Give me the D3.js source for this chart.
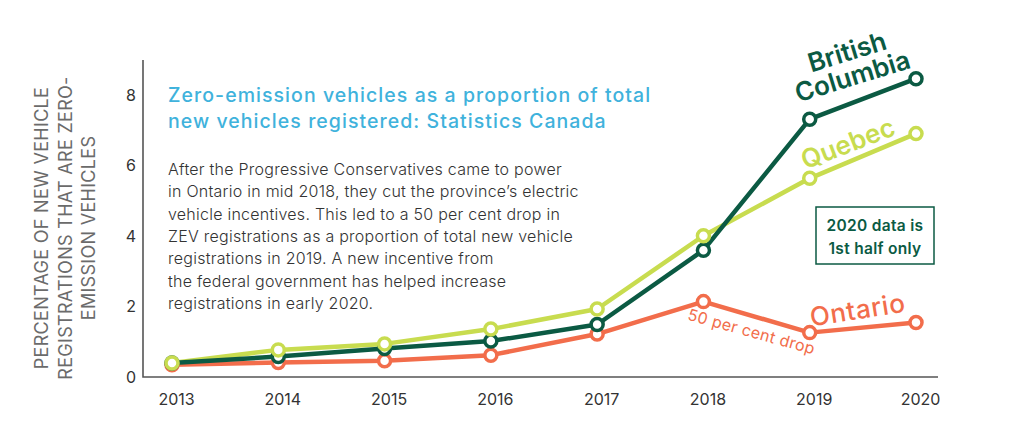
<!DOCTYPE html>
<html>
<head>
<meta charset="utf-8">
<script src="https://cdn.jsdelivr.net/npm/d3@7.9.0/dist/d3.min.js"></script>
<style>
  html, body { margin: 0; padding: 0; background: #fff; }
  svg { display: block; font-family: Inter, "Open Sans", sans-serif; }
</style>
</head>
<body>
<div id="chart"></div>
<script>
// data
const years = ['2013', '2014', '2015', '2016', '2017', '2018', '2019', '2020'];
const britishColumbia = [0.4, 0.58, 0.81, 1.02, 1.49, 3.6, 7.32, 8.47];
const quebec = [0.4, 0.77, 0.94, 1.36, 1.93, 4.01, 5.64, 6.91];
const ontario = [0.35, 0.41, 0.46, 0.62, 1.22, 2.14, 1.26, 1.55];
const yTicks = [0, 2, 4, 6, 8];

const yTitle = ['PERCENTAGE OF NEW VEHICLE', 'REGISTRATIONS THAT ARE ZERO-', 'EMISSION VEHICLES'];
const title = ['Zero-emission vehicles as a proportion of total', 'new vehicles registered: Statistics Canada'];
const body = [
  'After the Progressive Conservatives came to power',
  'in Ontario in mid 2018, they cut the province\u2019s electric',
  'vehicle incentives. This led to a 50 per cent drop in',
  'ZEV registrations as a proportion of total new vehicle',
  'registrations in 2019. A new incentive from',
  'the federal government has helped increase',
  'registrations in early 2020.'
];
const note = ['2020 data is', '1st half only'];

const colors = { bc: '#0b5a43', qc: '#c8dc4f', on: '#f26d4b' };

const width = 1024;
const height = 439;

const svg = d3.select('#chart')
  .append('svg')
  .attr('width', width)
  .attr('height', height);

const x = d3.scalePoint().domain(years).range([172, 916]);
const y = d3.scaleLinear().domain([0, 9]).range([377, 60]);

// y axis
const yAxis = svg.append('g')
  .attr('transform', 'translate(143,0)')
  .call(d3.axisLeft(y).tickValues(yTicks).tickSize(0).tickPadding(7));
yAxis.select('.domain').remove();
yAxis.selectAll('text')
  .attr('font-family', 'Inter, sans-serif')
  .attr('font-size', 16)
  .attr('fill', '#333');

// x axis
const xAxis = svg.append('g')
  .attr('transform', 'translate(0,377)')
  .call(d3.axisBottom(x).tickSize(0).tickPadding(17));
xAxis.select('.domain').remove();
xAxis.selectAll('text')
  .attr('dx', 4)
  .attr('font-family', 'Inter, sans-serif')
  .attr('font-size', 16)
  .attr('fill', '#333');

// axis lines
svg.append('path')
  .attr('d', `M143,${y(9)}V377H938`)
  .attr('fill', 'none')
  .attr('stroke', '#555')
  .attr('stroke-width', 1.6);

// y axis title
const yt = svg.append('text')
  .attr('transform', 'translate(42,228) rotate(-90)')
  .attr('text-anchor', 'middle')
  .attr('fill', '#6b6b6b')
  .attr('font-size', 18)
  .attr('letter-spacing', 0.3);
yt.selectAll('tspan')
  .data(yTitle)
  .join('tspan')
  .attr('x', 0)
  .attr('dy', (d, i) => i === 0 ? '0.35em' : 23.5)
  .text(d => d);

// title
svg.append('text')
  .attr('fill', '#3fb2dc')
  .attr('font-size', 19.5)
  .attr('font-weight', 500)
  .attr('letter-spacing', 1.05)
  .selectAll('tspan')
  .data(title)
  .join('tspan')
  .attr('x', 168)
  .attr('y', (d, i) => 102 + i * 26)
  .text(d => d);

// body text
svg.append('text')
  .attr('fill', '#333')
  .attr('font-size', 16)
  .attr('font-weight', 300)
  .attr('letter-spacing', 0.25)
  .selectAll('tspan')
  .data(body)
  .join('tspan')
  .attr('x', 168)
  .attr('y', (d, i) => 175 + i * 22.3)
  .text(d => d);

// series
const series = [
  { key: 'on', values: ontario },
  { key: 'qc', values: quebec },
  { key: 'bc', values: britishColumbia }
];

const line = d3.line()
  .x((d, i) => x(years[i]))
  .y(d => y(d));

svg.append('g')
  .selectAll('path')
  .data(series)
  .join('path')
  .attr('d', d => line(d.values))
  .attr('fill', 'none')
  .attr('stroke', d => colors[d.key])
  .attr('stroke-width', 4.5)
  .attr('stroke-linejoin', 'round');

// circles: Quebec last so its 2013 marker sits on top
const circleOrder = [series[0], series[2], series[1]];
svg.append('g')
  .selectAll('g')
  .data(circleOrder)
  .join('g')
  .attr('stroke', d => colors[d.key])
  .selectAll('circle')
  .data(d => d.values)
  .join('circle')
  .attr('cx', (d, i) => x(years[i]))
  .attr('cy', d => y(d))
  .attr('r', 6)
  .attr('fill', '#fff')
  .attr('stroke-width', 3.5);

// series labels
const bcLabel = svg.append('text')
  .attr('transform', 'translate(849,65) rotate(-17)')
  .attr('text-anchor', 'middle')
  .attr('fill', colors.bc)
  .attr('font-size', 26)
  .attr('font-weight', 600);
bcLabel.append('tspan').attr('x', 2).attr('y', -4).text('British');
bcLabel.append('tspan').attr('x', 0).attr('y', 21).text('Columbia');

svg.append('text')
  .attr('transform', 'translate(851,152) rotate(-21)')
  .attr('text-anchor', 'middle')
  .attr('fill', colors.qc)
  .attr('font-size', 26)
  .attr('font-weight', 600)
  .text('Quebec');

svg.append('text')
  .attr('transform', 'translate(859,319) rotate(-9)')
  .attr('text-anchor', 'middle')
  .attr('fill', colors.on)
  .attr('font-size', 26)
  .attr('font-weight', 500)
  .attr('letter-spacing', 0.6)
  .text('Ontario');

svg.append('text')
  .attr('transform', 'translate(750,337) rotate(15.5)')
  .attr('text-anchor', 'middle')
  .attr('fill', colors.on)
  .attr('font-size', 16)
  .attr('letter-spacing', 0.3)
  .text('50 per cent drop');

// note box
svg.append('rect')
  .attr('x', 816)
  .attr('y', 207)
  .attr('width', 118)
  .attr('height', 57)
  .attr('fill', '#fff')
  .attr('stroke', colors.bc)
  .attr('stroke-width', 1.5);

svg.append('text')
  .attr('text-anchor', 'middle')
  .attr('fill', colors.bc)
  .attr('font-size', 15.5)
  .attr('font-weight', 600)
  .attr('letter-spacing', 0.3)
  .selectAll('tspan')
  .data(note)
  .join('tspan')
  .attr('x', 875)
  .attr('y', (d, i) => 231 + i * 23)
  .text(d => d);
</script>
</body>
</html>
